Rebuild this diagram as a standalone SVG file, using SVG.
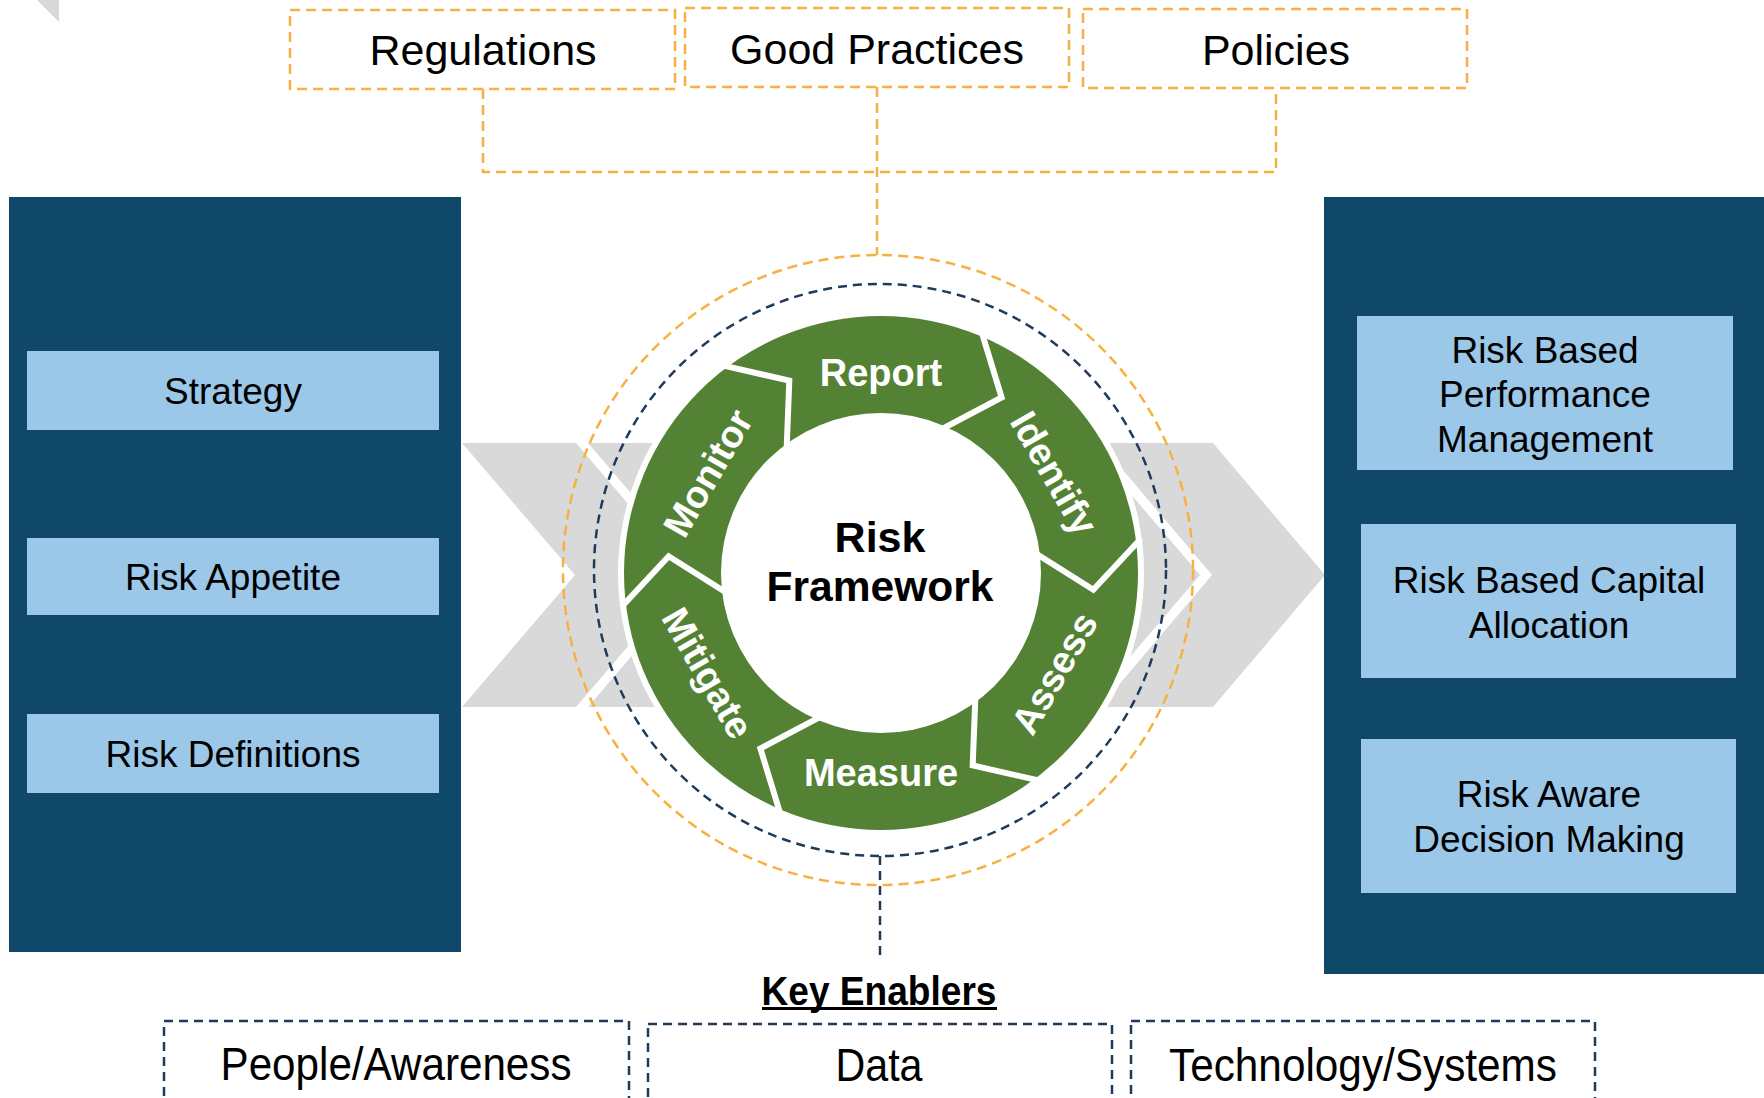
<svg xmlns="http://www.w3.org/2000/svg" width="1764" height="1098" viewBox="0 0 1764 1098">
<style>
.t{font-family:"Liberation Sans",Arial,sans-serif;fill:#000;text-anchor:middle}
.top{font-size:43px}
.pan{font-size:37px}
.seg{font-family:"Liberation Sans",Arial,sans-serif;font-weight:bold;font-size:38px;fill:#fff;text-anchor:middle}
.bot{font-size:46px}
.obox{fill:none;stroke:#F8B040;stroke-width:2.5;stroke-dasharray:10 6}
.nbox{fill:none;stroke:#1F3B5C;stroke-width:2.5;stroke-dasharray:9 6}
.panel{fill:#0F4868}
.item{fill:#9BC7E8}
.chev{fill:#D9D9D9}
.sep{fill:none;stroke:#fff;stroke-width:6;stroke-linejoin:miter}
</style>
<rect width="1764" height="1098" fill="#fff"/>
<polygon class="chev" points="37,0 59,0 59,22"/>

<g id="chevrons">
<polygon class="chev" points="462,443 576,443 689,575 576,707 462,707 575,575"/>
<polygon class="chev" points="588,443 1087,443 1200,575 1087,707 588,707 701,575"/>
<polygon class="chev" points="1100,443 1213,443 1325,575 1213,707 1100,707 1212,575"/>
</g>

<g id="connectors">
<polyline class="obox" points="483,89 483,172 1276,172 1276,88"/>
<line class="obox" x1="877" y1="87" x2="877" y2="255"/>
<circle class="obox" cx="878" cy="570" r="315"/>
<circle class="nbox" cx="880" cy="570" r="286"/>
<line class="nbox" x1="880" y1="856" x2="880" y2="958"/>
</g>

<g id="regulations">
<rect class="obox" x="290" y="10" width="385" height="79"/>
<text class="t top" x="483" y="65">Regulations</text>
</g>
<g id="good-practices">
<rect class="obox" x="685" y="8" width="384" height="79"/>
<text class="t top" x="877" y="64">Good Practices</text>
</g>
<g id="policies">
<rect class="obox" x="1083" y="9" width="384" height="79"/>
<text class="t top" x="1276" y="65">Policies</text>
</g>

<g id="left-panel">
<rect class="panel" x="9" y="197" width="452" height="755"/>
<g id="strategy"><rect class="item" x="27" y="351" width="412" height="79"/><text class="t pan" x="233" y="404">Strategy</text></g>
<g id="risk-appetite"><rect class="item" x="27" y="538" width="412" height="77"/><text class="t pan" x="233" y="590">Risk Appetite</text></g>
<g id="risk-definitions"><rect class="item" x="27" y="714" width="412" height="79"/><text class="t pan" x="233" y="767">Risk Definitions</text></g>
</g>

<g id="right-panel">
<rect class="panel" x="1324" y="197" width="440" height="777"/>
<g id="rbpm"><rect class="item" x="1357" y="316" width="376" height="154"/>
<text class="t pan" x="1545" y="363">Risk Based</text>
<text class="t pan" x="1545" y="407">Performance</text>
<text class="t pan" x="1545" y="452">Management</text></g>
<g id="rbca"><rect class="item" x="1361" y="524" width="375" height="154"/>
<text class="t pan" x="1549" y="593">Risk Based Capital</text>
<text class="t pan" x="1549" y="638">Allocation</text></g>
<g id="radm"><rect class="item" x="1361" y="739" width="375" height="154"/>
<text class="t pan" x="1549" y="807">Risk Aware</text>
<text class="t pan" x="1549" y="852">Decision Making</text></g>
</g>

<g id="risk-cycle">
<circle cx="881" cy="573" r="263" fill="#fff"/>
<circle cx="881" cy="573" r="257" fill="#548235"/>
<polyline class="sep" points="981.3,330.9 1001.6,397.5 940.3,429.8"/>
<polyline class="sep" points="1140.8,538.8 1093.3,589.7 1034.7,552.8"/>
<polyline class="sep" points="1040.5,780.9 972.7,765.3 975.4,696.0"/>
<polyline class="sep" points="780.7,815.1 760.4,748.5 821.7,716.2"/>
<polyline class="sep" points="621.2,607.2 668.7,556.3 727.3,593.2"/>
<polyline class="sep" points="721.5,365.1 789.3,380.7 786.6,450.0"/>
<circle cx="881" cy="573" r="160" fill="#fff"/>
<g id="report"><text class="seg" x="881" y="373" dy="0.35em">Report</text></g>
<g id="identify"><text class="seg" x="1054.2" y="473" dy="0.35em" transform="rotate(60 1054.2 473)">Identify</text></g>
<g id="assess"><text class="seg" x="1054.2" y="673" dy="0.35em" transform="rotate(-60 1054.2 673)">Assess</text></g>
<g id="measure"><text class="seg" x="881" y="773" dy="0.35em">Measure</text></g>
<g id="mitigate"><text class="seg" x="707.8" y="673" dy="0.35em" transform="rotate(60 707.8 673)">Mitigate</text></g>
<g id="monitor"><text class="seg" x="707.8" y="473" dy="0.35em" transform="rotate(-60 707.8 473)">Monitor</text></g>
<g id="risk-framework">
<text class="t" x="880" y="552" font-weight="bold" font-size="43">Risk</text>
<text class="t" x="880" y="601" font-weight="bold" font-size="43" textLength="227" lengthAdjust="spacingAndGlyphs">Framework</text>
</g>
</g>

<g id="key-enablers">
<text class="t" x="879" y="1005" font-weight="bold" font-size="40" textLength="235" lengthAdjust="spacingAndGlyphs">Key Enablers</text>
<rect x="762" y="1007" width="235" height="3" fill="#000"/>
</g>
<g id="people">
<rect class="nbox" x="164" y="1021" width="465" height="120"/>
<text class="t bot" x="396" y="1080" textLength="351" lengthAdjust="spacingAndGlyphs">People/Awareness</text>
</g>
<g id="data">
<rect class="nbox" x="648" y="1024" width="464" height="120" stroke-width="2"/>
<text class="t bot" x="879" y="1081" textLength="87" lengthAdjust="spacingAndGlyphs">Data</text>
</g>
<g id="technology">
<rect class="nbox" x="1131" y="1021" width="464" height="120"/>
<text class="t bot" x="1363" y="1081" textLength="388" lengthAdjust="spacingAndGlyphs">Technology/Systems</text>
</g>
</svg>
